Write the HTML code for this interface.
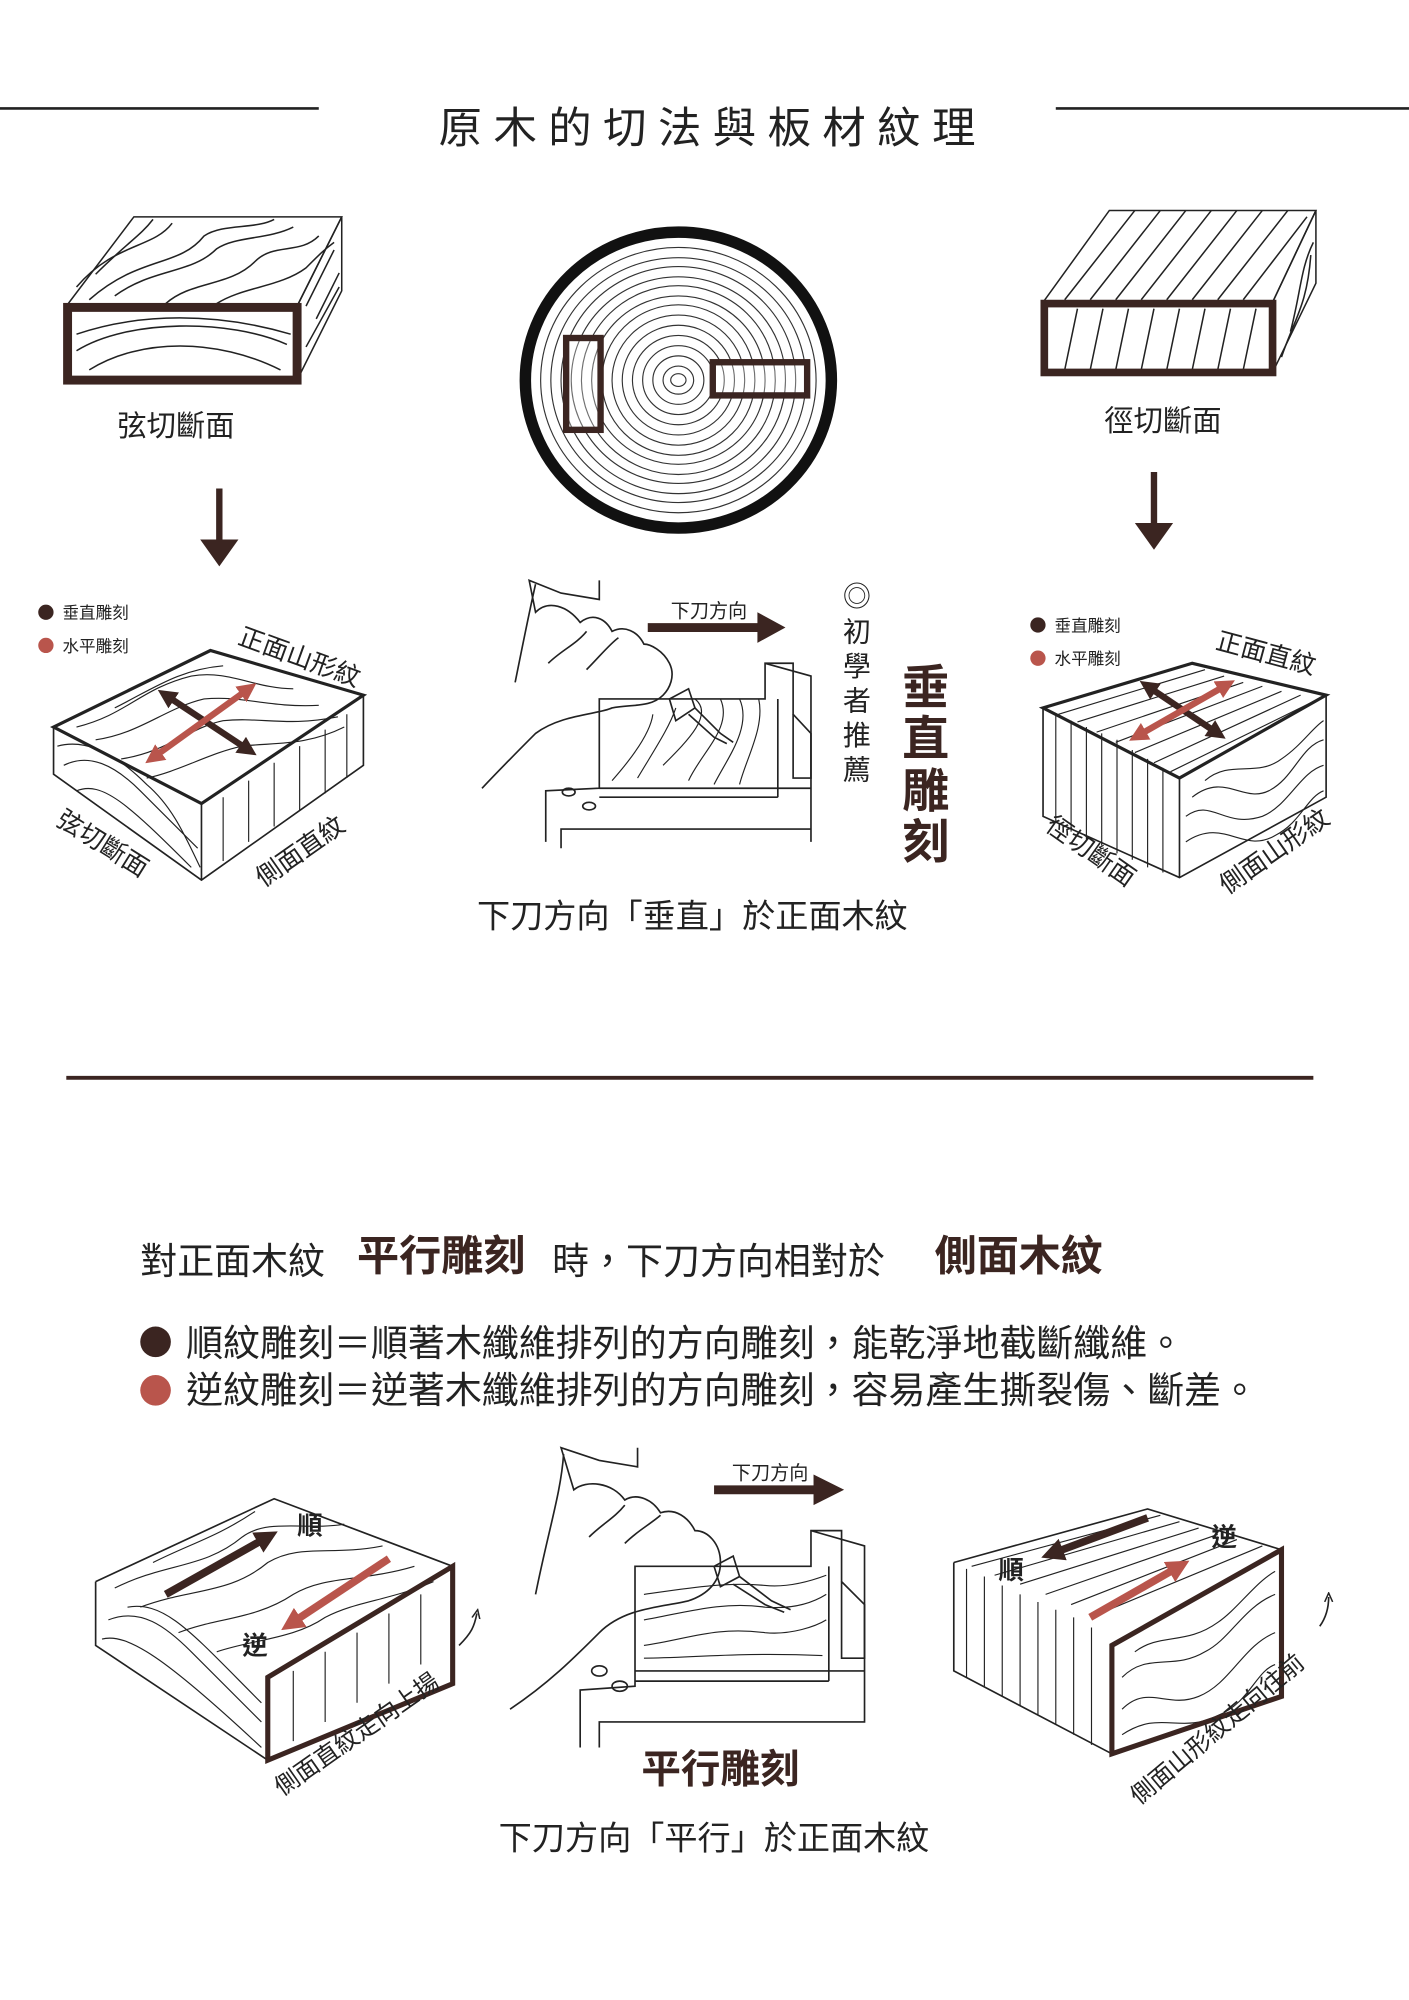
<!DOCTYPE html>
<html><head><meta charset="utf-8">
<style>
html,body{margin:0;padding:0;background:#fff;}
svg{display:block;}
text{font-family:"Liberation Sans","Noto Sans CJK TC",sans-serif;}
</style></head>
<body>
<svg width="1409" height="2000" viewBox="0 0 1105 1568" preserveAspectRatio="none" xmlns="http://www.w3.org/2000/svg">
<defs>
<marker id="ah" viewBox="0 0 10 10" refX="5" refY="5" markerWidth="3" markerHeight="3" orient="auto-start-reverse"><path d="M0,0 L10,5 L0,10 z" fill="#3b2521"/></marker>
<marker id="ahr" viewBox="0 0 10 10" refX="5" refY="5" markerWidth="3" markerHeight="3" orient="auto-start-reverse"><path d="M0,0 L10,5 L0,10 z" fill="#b9554c"/></marker>
<marker id="sm" viewBox="0 0 10 10" refX="5" refY="5" markerWidth="6" markerHeight="6" orient="auto"><path d="M0,1 L9,5 L0,9" fill="none" stroke="#222" stroke-width="1.5"/></marker>
</defs>
<g stroke="#222" fill="none">
<line x1="0" y1="85" x2="250" y2="85" stroke-width="2"/>
<line x1="828" y1="85" x2="1105" y2="85" stroke-width="2"/>
</g>
<text x="559" y="112" font-size="34" text-anchor="middle" fill="#222" letter-spacing="9" font-family="'Liberation Serif','Noto Serif CJK SC',serif">原木的切法與板材紋理</text>

<!-- top-left box -->
<g stroke="#222" fill="none" stroke-width="1.2">
<polygon points="52,240 105,170 268,170 233,240"/>
<polygon points="233,240 268,170 268,228 233,298"/>
<path d="M70,235 C110,200 140,210 160,185 C175,175 200,180 215,172"/><path d="M90,232 C120,210 150,215 170,195 C185,185 210,188 230,178"/>
<path d="M60,225 C90,190 120,195 135,175"/><path d="M130,238 C150,220 180,225 200,205 C215,190 235,200 250,185"/>
<path d="M170,238 C190,225 220,225 240,210 C250,200 255,195 262,190"/>
<path d="M75,215 C100,190 110,185 120,172"/>
<path d="M240,240 L262,196 M248,250 L266,214 M240,272 L266,225"/>
<path d="M60,275 C100,250 180,250 225,270 M60,262 C110,245 170,245 228,262 M70,290 C110,265 170,265 220,290"/>
</g>
<rect x="53" y="241" width="180" height="57" fill="none" stroke="#3b2521" stroke-width="7"/>
<text x="138" y="342" font-size="23" text-anchor="middle" fill="#222">弦切斷面</text>
<line x1="172" y1="383" x2="172" y2="425" stroke="#3b2521" stroke-width="5"/>
<polygon points="157,423 187,423 172,444" fill="#3b2521"/>

<!-- log -->
<ellipse cx="532" cy="298" rx="120" ry="116" fill="none" stroke="#111" stroke-width="9"/>
<g fill="none" stroke="#333" stroke-width="0.9">
<ellipse cx="532" cy="298" rx="108" ry="104"/><ellipse cx="532" cy="298" rx="100" ry="96"/><ellipse cx="532" cy="298" rx="92" ry="89"/><ellipse cx="532" cy="298" rx="84" ry="81"/><ellipse cx="532" cy="298" rx="76" ry="74"/><ellipse cx="532" cy="298" rx="68" ry="66"/><ellipse cx="532" cy="298" rx="60" ry="59"/><ellipse cx="532" cy="298" rx="52" ry="51"/><ellipse cx="532" cy="298" rx="44" ry="43"/><ellipse cx="532" cy="298" rx="36" ry="35"/><ellipse cx="532" cy="298" rx="28" ry="27"/><ellipse cx="532" cy="298" rx="20" ry="19"/><ellipse cx="532" cy="298" rx="12" ry="11"/><ellipse cx="532" cy="298" rx="6" ry="5"/>
</g>
<rect x="444" y="265" width="27" height="72" fill="#fff" fill-opacity="0.3" stroke="#3b2521" stroke-width="5"/>
<rect x="559" y="284" width="74" height="26" fill="#fff" fill-opacity="0.3" stroke="#3b2521" stroke-width="5"/>

<!-- top-right box -->
<g stroke="#222" fill="none" stroke-width="1.2">
<polygon points="818,237 870,165 1032,165 998,237"/>
<polygon points="998,237 1032,165 1032,222 998,292"/>
<path d="M835,235 L890,165 M855,235 L910,165 M875,235 L930,165 M895,235 L950,165 M915,235 L970,165 M935,235 L990,165 M955,235 L1010,165 M975,235 L1025,170"/>
<path d="M835,290 L845,242 M855,290 L865,242 M875,290 L885,242 M895,290 L905,242 M915,290 L925,242 M935,290 L945,242 M955,290 L965,242 M975,290 L985,242"/>
<path d="M1005,280 C1015,250 1025,240 1028,200 M1012,260 C1020,230 1020,210 1030,190"/>
</g>
<rect x="819" y="238" width="179" height="54" fill="none" stroke="#3b2521" stroke-width="6"/>
<text x="912" y="338" font-size="23" text-anchor="middle" fill="#222">徑切斷面</text>
<line x1="905" y1="370" x2="905" y2="412" stroke="#3b2521" stroke-width="5"/>
<polygon points="890,410 920,410 905,431" fill="#3b2521"/>

<!-- legends -->
<circle cx="36" cy="480" r="6" fill="#3b2521"/><text x="49" y="485" font-size="13" fill="#222">垂直雕刻</text>
<circle cx="36" cy="506" r="6" fill="#b9554c"/><text x="49" y="511" font-size="13" fill="#222">水平雕刻</text>
<circle cx="814" cy="490" r="6" fill="#3b2521"/><text x="827" y="495" font-size="13" fill="#222">垂直雕刻</text>
<circle cx="814" cy="516" r="6" fill="#b9554c"/><text x="827" y="521" font-size="13" fill="#222">水平雕刻</text>

<!-- mid-left box -->
<g stroke="#222" fill="none" stroke-width="1.3">
<polygon points="42,570 165,510 285,545 158,630" stroke-width="2.5"/>
<polyline points="42,570 42,607 158,690 285,600 285,545"/>
<line x1="158" y1="630" x2="158" y2="690"/>
<g stroke-width="0.9">
<path d="M60,570 C100,560 110,540 150,530 C180,525 200,540 230,540"/>
<path d="M75,580 C110,575 130,555 160,548 C190,545 210,555 250,553"/>
<path d="M95,595 C130,590 150,570 175,565 C205,562 225,570 265,562"/>
<path d="M115,610 C140,605 165,590 190,585 C215,582 240,585 270,570"/>
<path d="M90,555 C120,540 140,525 175,522"/>
<path d="M50,600 C70,590 90,600 110,620 C125,635 140,650 155,665"/>
<path d="M45,585 C70,578 95,595 115,615 C135,632 145,655 157,680"/>
<path d="M60,620 C80,612 100,630 150,680"/>
<path d="M175,675 L175,625 M195,660 L195,612 M215,648 L215,598 M235,635 L235,585 M255,622 L255,572 M272,610 L272,560"/>
</g></g>
<line x1="130" y1="545" x2="195" y2="588" stroke="#3b2521" stroke-width="5" marker-start="url(#ah)" marker-end="url(#ah)"/>
<line x1="120" y1="594" x2="195" y2="540" stroke="#b9554c" stroke-width="5" marker-start="url(#ahr)" marker-end="url(#ahr)"/>
<text x="235" y="522" font-size="20" text-anchor="middle" fill="#222" transform="rotate(20 235 515)">正面山形紋</text>
<text x="80" y="668" font-size="20" text-anchor="middle" fill="#222" transform="rotate(32 80 662)">弦切斷面</text>
<text x="236" y="674" font-size="20" text-anchor="middle" fill="#222" transform="rotate(-35 236 668)">側面直紋</text>

<!-- mid-right box -->
<g stroke="#222" fill="none" stroke-width="1.3">
<polygon points="818,555 935,520 1040,545 925,610" stroke-width="2.5"/>
<polyline points="818,555 818,640 925,688 1040,625 1040,545"/>
<line x1="925" y1="610" x2="925" y2="688"/>
<g stroke-width="0.9">
<path d="M830,560 L945,525 M845,566 L960,530 M860,574 L975,535 M875,582 L990,538 M890,590 L1005,542 M905,598 L1020,545 M918,605 L1030,550"/>
<path d="M828,645 L828,560 M840,652 L840,565 M852,658 L852,570 M864,663 L864,575 M876,669 L876,580 M888,674 L888,588 M900,680 L900,595 M912,684 L912,602"/>
<path d="M930,640 C950,625 960,650 990,640 C1010,632 1020,605 1038,600"/>
<path d="M930,660 C960,640 975,670 1000,655 C1020,645 1025,625 1038,620"/>
<path d="M935,625 C960,605 975,630 995,620 C1015,610 1020,585 1038,580"/>
<path d="M945,612 C965,595 985,610 1005,595 C1020,585 1030,570 1038,565"/>
</g></g>
<line x1="900" y1="538" x2="955" y2="575" stroke="#3b2521" stroke-width="5" marker-start="url(#ah)" marker-end="url(#ah)"/>
<line x1="892" y1="577" x2="962" y2="537" stroke="#b9554c" stroke-width="5" marker-start="url(#ahr)" marker-end="url(#ahr)"/>
<text x="993" y="519" font-size="20" text-anchor="middle" fill="#222" transform="rotate(15 993 512)">正面直紋</text>
<text x="855" y="674" font-size="20" text-anchor="middle" fill="#222" transform="rotate(35 855 668)">徑切斷面</text>
<text x="1000" y="674" font-size="20" text-anchor="middle" fill="#222" transform="rotate(-35 1000 668)">側面山形紋</text>

<!-- center carving top -->
<g stroke="#222" fill="none" stroke-width="1.3">
<path d="M428,660 L428,620 L470,618 L470,548 L600,548 L600,520 L622,520 L622,560 L636,575 L636,660"/>
<line x1="470" y1="618" x2="636" y2="618"/><line x1="470" y1="625" x2="610" y2="625"/>
<line x1="610" y1="548" x2="610" y2="625"/>
<path d="M600,520 L636,530 L636,610 L622,610 L622,560"/>
<path d="M440,665 L440,650 L636,650"/>
<g stroke-width="0.9">
<path d="M520,600 C540,580 560,560 545,548 M540,612 C550,590 575,570 565,548 M560,615 C570,595 590,570 580,548 M580,615 C585,595 600,570 595,548 M500,610 C515,585 525,570 530,555 M480,612 C495,595 510,575 512,560"/>
</g>
<ellipse cx="446" cy="621" rx="5" ry="3"/><ellipse cx="462" cy="632" rx="5" ry="3"/>
<path d="M378,618 C395,600 405,590 420,575 C440,560 470,560 480,555 C495,552 510,555 520,545 C525,540 530,530 525,520 C520,510 510,505 505,505 C500,495 490,490 480,495 C475,485 465,480 455,488 C445,475 430,470 420,480 L415,455 L440,465 L470,470 L470,455"/>
<path d="M404,535 C410,505 415,480 420,458"/>
<path d="M430,520 C440,510 452,505 460,495 M460,525 C470,515 478,505 485,500"/>
<path d="M525,548 L540,540 L545,555 L530,565 z"/>
<path d="M545,555 L565,575 L575,582 M540,560 L560,578 L570,583"/>
</g>
<line x1="508" y1="492" x2="598" y2="492" stroke="#3b2521" stroke-width="7"/>
<polygon points="594,480 616,492 594,504" fill="#3b2521"/>
<text x="556" y="484" font-size="15" text-anchor="middle" fill="#222">下刀方向</text>
<g font-size="22" fill="#222" text-anchor="middle">
<text x="672" y="475">◎</text><text x="672" y="503">初</text><text x="672" y="530">學</text><text x="672" y="557">者</text><text x="672" y="584">推</text><text x="672" y="611">薦</text>
</g>
<g font-size="37" font-weight="bold" fill="#3b2521" text-anchor="middle">
<text x="726" y="552">垂</text><text x="726" y="592">直</text><text x="726" y="633">雕</text><text x="726" y="673">刻</text>
</g>
<text x="543" y="727" font-size="26" text-anchor="middle" fill="#222">下刀方向「垂直」於正面木紋</text>

<line x1="52" y1="845" x2="1030" y2="845" stroke="#3b2521" stroke-width="3"/>

<!-- bottom text -->
<text x="110" y="999" font-size="29" fill="#222">對正面木紋</text>
<text x="280" y="996" font-size="33" font-weight="bold" fill="#3b2521">平行雕刻</text>
<text x="433" y="999" font-size="29" fill="#222">時，下刀方向相對於</text>
<text x="733" y="996" font-size="33" font-weight="bold" fill="#3b2521">側面木紋</text>
<circle cx="122" cy="1052" r="12" fill="#3b2521"/>
<text x="146" y="1063" font-size="29" fill="#222">順紋雕刻＝順著木纖維排列的方向雕刻，能乾淨地截斷纖維。</text>
<circle cx="122" cy="1090" r="12" fill="#b9554c"/>
<text x="146" y="1100" font-size="29" fill="#222">逆紋雕刻＝逆著木纖維排列的方向雕刻，容易產生撕裂傷、斷差。</text>

<!-- bottom-left box -->
<g stroke="#222" fill="none" stroke-width="1.3">
<polyline points="75,1240 215,1175 355,1228"/>
<polyline points="75,1240 75,1290 210,1380"/>
<g stroke-width="0.9">
<path d="M90,1245 C130,1225 160,1230 190,1205 C210,1190 240,1200 270,1195"/>
<path d="M110,1260 C150,1245 180,1250 210,1225 C235,1210 260,1220 300,1212"/>
<path d="M140,1280 C170,1268 200,1270 230,1250 C255,1235 285,1240 325,1228"/>
<path d="M170,1295 C200,1285 230,1285 255,1268 C280,1255 305,1255 340,1240"/>
<path d="M120,1225 C150,1210 170,1205 200,1185"/>
<path d="M85,1270 C110,1260 130,1275 150,1295 C165,1310 185,1330 205,1350"/>
<path d="M80,1285 C100,1280 130,1300 205,1370"/>
<path d="M100,1260 C130,1255 150,1280 205,1335"/>
<path d="M230,1365 L230,1310 M255,1350 L255,1295 M280,1335 L280,1280 M305,1320 L305,1265 M330,1305 L330,1250"/>
</g>
<path d="M360,1290 C370,1280 372,1275 374,1265" marker-end="url(#sm)"/>
</g>
<polygon points="210,1315 355,1228 355,1320 210,1380" fill="none" stroke="#3b2521" stroke-width="4"/>
<line x1="130" y1="1250" x2="210" y2="1205" stroke="#3b2521" stroke-width="6" marker-end="url(#ah)"/>
<line x1="305" y1="1222" x2="228" y2="1273" stroke="#b9554c" stroke-width="6" marker-end="url(#ahr)"/>
<text x="243" y="1203" font-size="20" font-weight="bold" text-anchor="middle" fill="#222">順</text>
<text x="200" y="1297" font-size="20" font-weight="bold" text-anchor="middle" fill="#222">逆</text>
<text x="280" y="1366" font-size="19" text-anchor="middle" fill="#222" transform="rotate(-35 280 1360)">側面直紋走向上揚</text>

<!-- bottom center carving -->
<g stroke="#222" fill="none" stroke-width="1.3">
<path d="M455,1370 L455,1325 L498,1322 L498,1228 L636,1228 L636,1200 L660,1200 L660,1240 L678,1258 L678,1350 L470,1350 L470,1370"/>
<line x1="498" y1="1310" x2="678" y2="1310"/><line x1="498" y1="1318" x2="650" y2="1318"/>
<line x1="650" y1="1228" x2="650" y2="1318"/>
<path d="M636,1200 L678,1212 L678,1300 L660,1300 L660,1240"/>
<g stroke-width="0.9">
<path d="M505,1290 C540,1285 560,1275 600,1280 C620,1282 640,1275 648,1270"/>
<path d="M505,1270 C535,1265 565,1255 600,1260 C625,1262 640,1255 648,1250"/>
<path d="M505,1250 C540,1245 570,1240 600,1243 C620,1245 640,1238 648,1235"/>
<path d="M505,1300 C540,1300 580,1295 645,1298"/>
</g>
<ellipse cx="470" cy="1310" rx="6" ry="4"/><ellipse cx="486" cy="1322" rx="6" ry="4"/>
<path d="M400,1340 C430,1320 450,1300 470,1280 C490,1260 520,1260 540,1255 C555,1250 565,1240 565,1225 C565,1210 555,1200 545,1200 C540,1190 530,1182 518,1186 C512,1176 500,1170 490,1176 C480,1162 460,1160 450,1168 L440,1135 L470,1145 L500,1150 L500,1135"/>
<path d="M420,1250 C430,1200 440,1170 442,1140"/>
<path d="M462,1205 C472,1195 482,1190 490,1180 M490,1210 C500,1200 510,1195 518,1188"/>
<path d="M560,1228 L575,1220 L580,1236 L565,1244 z"/>
<path d="M580,1236 L605,1255 L620,1262 M575,1242 L600,1258 L615,1264"/>
</g>
<line x1="560" y1="1168" x2="642" y2="1168" stroke="#3b2521" stroke-width="7"/>
<polygon points="638,1156 662,1168 638,1180" fill="#3b2521"/>
<text x="604" y="1160" font-size="15" text-anchor="middle" fill="#222">下刀方向</text>
<text x="565" y="1398" font-size="31" font-weight="bold" text-anchor="middle" fill="#3b2521">平行雕刻</text>
<text x="560" y="1450" font-size="26" text-anchor="middle" fill="#222">下刀方向「平行」於正面木紋</text>

<!-- bottom-right box -->
<g stroke="#222" fill="none" stroke-width="1.3">
<polyline points="748,1225 900,1183 1005,1215"/>
<polyline points="748,1225 748,1310 872,1375"/>
<g stroke-width="0.9">
<path d="M762,1228 L910,1188 M780,1235 L925,1193 M800,1242 L940,1198 M820,1250 L955,1203 M840,1258 L970,1207 M860,1266 L990,1212"/>
<path d="M758,1315 L758,1230 M772,1322 L772,1236 M786,1330 L786,1243 M800,1337 L800,1250 M814,1345 L814,1256 M828,1352 L828,1262 M842,1360 L842,1268 M856,1368 L856,1276"/>
<path d="M880,1340 C900,1320 915,1340 940,1330 C965,1320 975,1290 1000,1280"/>
<path d="M880,1360 C910,1340 925,1360 955,1345 C980,1335 985,1310 1000,1305"/>
<path d="M880,1315 C900,1295 920,1310 945,1295 C965,1285 975,1260 1000,1250"/>
<path d="M890,1295 C910,1280 930,1290 955,1272 C970,1262 985,1240 1000,1232"/>
</g>
<path d="M1035,1275 C1040,1268 1042,1260 1042,1252" marker-end="url(#sm)"/>
</g>
<polygon points="872,1290 1005,1215 1005,1330 872,1375" fill="none" stroke="#3b2521" stroke-width="4"/>
<line x1="900" y1="1190" x2="825" y2="1218" stroke="#3b2521" stroke-width="6" marker-end="url(#ah)"/>
<line x1="855" y1="1268" x2="925" y2="1228" stroke="#b9554c" stroke-width="6" marker-end="url(#ahr)"/>
<text x="793" y="1238" font-size="20" font-weight="bold" text-anchor="middle" fill="#222">順</text>
<text x="960" y="1212" font-size="20" font-weight="bold" text-anchor="middle" fill="#222">逆</text>
<text x="955" y="1362" font-size="19" text-anchor="middle" fill="#222" transform="rotate(-40 955 1356)">側面山形紋走向往前</text>
</svg>
</body></html>
